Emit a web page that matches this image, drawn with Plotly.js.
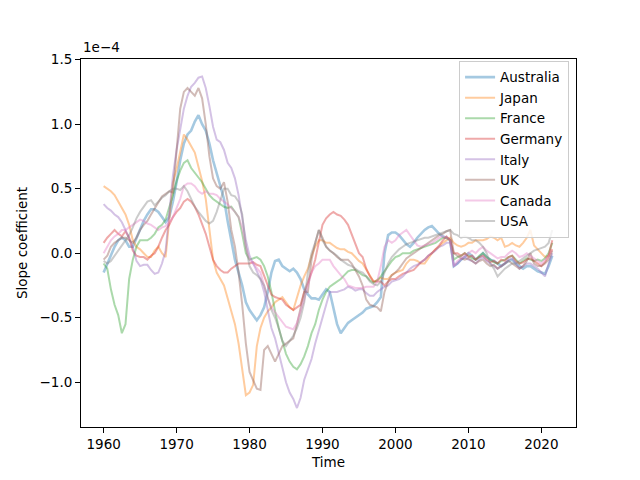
<!DOCTYPE html>
<html>
<head>
<meta charset="utf-8">
<script src="https://cdn.plot.ly/plotly-3.0.1.min.js"></script>
<style>
  html, body { margin: 0; padding: 0; background: #fff; }
  #chart { width: 640px; height: 480px; }
</style>
</head>
<body>
<div id="chart"></div>
<script>
// Half-year time grid, 1960.0 .. 2021.5
const years = [
  1960, 1960.5, 1961, 1961.5, 1962, 1962.5, 1963, 1963.5, 1964, 1964.5,
  1965, 1965.5, 1966, 1966.5, 1967, 1967.5, 1968, 1968.5, 1969, 1969.5,
  1970, 1970.5, 1971, 1971.5, 1972, 1972.5, 1973, 1973.5, 1974, 1974.5,
  1975, 1975.5, 1976, 1976.5, 1977, 1977.5, 1978, 1978.5, 1979, 1979.5,
  1980, 1980.5, 1981, 1981.5, 1982, 1982.5, 1983, 1983.5, 1984, 1984.5,
  1985, 1985.5, 1986, 1986.5, 1987, 1987.5, 1988, 1988.5, 1989, 1989.5,
  1990, 1990.5, 1991, 1991.5, 1992, 1992.5, 1993, 1993.5, 1994, 1994.5,
  1995, 1995.5, 1996, 1996.5, 1997, 1997.5, 1998, 1998.5, 1999, 1999.5,
  2000, 2000.5, 2001, 2001.5, 2002, 2002.5, 2003, 2003.5, 2004, 2004.5,
  2005, 2005.5, 2006, 2006.5, 2007, 2007.5, 2008, 2008.5, 2009, 2009.5,
  2010, 2010.5, 2011, 2011.5, 2012, 2012.5, 2013, 2013.5, 2014, 2014.5,
  2015, 2015.5, 2016, 2016.5, 2017, 2017.5, 2018, 2018.5, 2019, 2019.5,
  2020, 2020.5, 2021, 2021.5
];

// Slope coefficients, in units of 1e-4
const australia = [
  -0.15, -0.08, -0.02, 0.05, 0.10, 0.12, 0.10, 0.05, 0.05, 0.12,
  0.18, 0.25, 0.30, 0.34, 0.34, 0.32, 0.28, 0.24, 0.28, 0.40,
  0.55, 0.72, 0.85, 0.92, 0.95, 1.02, 1.07, 1.00, 0.95, 0.85,
  0.72, 0.62, 0.52, 0.42, 0.25, 0.10, -0.05, -0.15, -0.25, -0.38,
  -0.44, -0.48, -0.52, -0.48, -0.42, -0.30, -0.15, -0.06, -0.05, -0.10,
  -0.12, -0.14, -0.12, -0.15, -0.20, -0.28, -0.32, -0.35, -0.35, -0.36,
  -0.32, -0.28, -0.30, -0.42, -0.55, -0.62, -0.58, -0.54, -0.52, -0.50,
  -0.48, -0.46, -0.43, -0.42, -0.41, -0.38, -0.34, 0.00, 0.14, 0.16,
  0.16, 0.14, 0.10, 0.07, 0.05, 0.08, 0.12, 0.15, 0.18, 0.20,
  0.21, 0.18, 0.15, 0.13, 0.12, 0.10, -0.10, -0.08, -0.05, -0.03,
  0.00, -0.02, -0.05, -0.03, 0.00, -0.03, -0.05, -0.06, -0.08, -0.10,
  -0.08, -0.06, -0.05, -0.08, -0.10, -0.12, -0.10, -0.10, -0.12, -0.14,
  -0.15, -0.16, -0.10, -0.02
];
const japan = [
  0.52, 0.50, 0.48, 0.45, 0.40, 0.36, 0.30, 0.22, 0.10, 0.05,
  0.03, 0.00, -0.03, -0.03, 0.02, 0.05, 0.00, -0.03, 0.25, 0.55,
  0.65, 0.80, 0.92, 0.88, 0.83, 0.78, 0.67, 0.56, 0.42, 0.20,
  -0.05, -0.15, -0.20, -0.25, -0.35, -0.45, -0.55, -0.70, -0.90, -1.10,
  -1.08, -1.02, -0.72, -0.58, -0.50, -0.45, -0.42, -0.38, -0.36, -0.34,
  -0.38, -0.42, -0.44, -0.35, -0.25, -0.18, -0.12, -0.02, 0.05, 0.10,
  0.10, 0.08, 0.08, 0.06, 0.04, 0.03, 0.03, 0.01, 0.00, -0.03,
  -0.06, -0.08, -0.13, -0.18, -0.22, -0.21, -0.19, -0.20, -0.20, -0.17,
  -0.15, -0.14, -0.13, -0.08, -0.05, -0.05, -0.06, -0.08, -0.08, -0.04,
  0.00, 0.03, 0.05, 0.08, 0.10, 0.12, 0.08, 0.06, 0.05, 0.06,
  0.08, 0.08, 0.10, 0.10, 0.10, 0.11, 0.13, 0.12, 0.10, 0.12,
  0.05, 0.06, 0.08, 0.06, 0.05, 0.08, 0.12, 0.18, 0.06, 0.03,
  0.00, -0.03, -0.02, 0.03
];
const france = [
  -0.08, -0.12, -0.28, -0.40, -0.48, -0.62, -0.55, -0.20, -0.05, 0.05,
  0.10, 0.10, 0.10, 0.12, 0.15, 0.20, 0.22, 0.26, 0.35, 0.45,
  0.56, 0.64, 0.70, 0.72, 0.66, 0.62, 0.58, 0.55, 0.50, 0.45,
  0.42, 0.40, 0.38, 0.36, 0.35, 0.36, 0.32, 0.28, 0.15, 0.00,
  -0.05, -0.04, -0.03, -0.05, -0.10, -0.18, -0.30, -0.45, -0.58, -0.68,
  -0.78, -0.84, -0.88, -0.90, -0.86, -0.80, -0.72, -0.62, -0.55, -0.44,
  -0.36, -0.30, -0.26, -0.24, -0.22, -0.20, -0.17, -0.14, -0.13, -0.13,
  -0.15, -0.17, -0.18, -0.21, -0.23, -0.21, -0.18, -0.14, -0.10, -0.06,
  -0.03, -0.02, 0.00, 0.00, 0.00, 0.02, 0.03, 0.04, 0.05, 0.06,
  0.07, 0.08, 0.10, 0.12, 0.12, 0.10, -0.05, -0.03, -0.02, 0.00,
  -0.02, -0.04, -0.05, -0.02, 0.00, -0.03, -0.05, -0.07, -0.08, -0.06,
  -0.05, -0.03, -0.02, -0.05, -0.08, -0.06, -0.04, -0.05, -0.06, -0.05,
  -0.06, -0.04, 0.00, 0.08
];
const germany = [
  0.08, 0.12, 0.15, 0.18, 0.15, 0.13, 0.17, 0.12, 0.02, -0.02,
  -0.03, -0.03, -0.05, -0.02, 0.00, 0.05, 0.12, 0.18, 0.22, 0.28,
  0.32, 0.35, 0.40, 0.42, 0.40, 0.36, 0.30, 0.22, 0.15, 0.05,
  -0.05, -0.10, -0.13, -0.15, -0.15, -0.12, -0.10, -0.08, -0.08, -0.08,
  -0.08, -0.07, -0.09, -0.10, -0.18, -0.25, -0.32, -0.34, -0.35, -0.36,
  -0.40, -0.42, -0.44, -0.42, -0.40, -0.30, -0.22, -0.15, -0.05, 0.10,
  0.22, 0.27, 0.30, 0.32, 0.30, 0.29, 0.26, 0.22, 0.15, 0.08,
  0.00, -0.03, -0.12, -0.18, -0.22, -0.22, -0.22, -0.25, -0.22, -0.20,
  -0.20, -0.18, -0.16, -0.15, -0.14, -0.13, -0.10, -0.07, -0.05, -0.02,
  0.00, 0.03, 0.06, 0.10, 0.13, 0.10, 0.00, 0.00, -0.02, 0.00,
  -0.03, -0.02, -0.05, -0.03, -0.02, -0.05, -0.07, -0.06, -0.08, -0.05,
  -0.06, -0.03, -0.02, -0.06, -0.08, -0.07, -0.05, -0.04, -0.06, -0.08,
  -0.10, -0.07, -0.02, 0.10
];
const italy = [
  0.38, 0.35, 0.33, 0.30, 0.28, 0.24, 0.18, 0.12, 0.05, -0.06,
  -0.10, -0.09, -0.09, -0.13, -0.16, -0.15, -0.08, 0.02, 0.30, 0.60,
  0.80, 0.95, 1.12, 1.22, 1.29, 1.32, 1.36, 1.37, 1.28, 1.14,
  0.98, 0.88, 0.86, 0.80, 0.70, 0.66, 0.58, 0.45, 0.28, 0.10,
  -0.02, -0.08, -0.14, -0.20, -0.30, -0.45, -0.58, -0.66, -0.78, -0.90,
  -1.00, -1.08, -1.13, -1.20, -1.12, -0.98, -0.90, -0.82, -0.70, -0.60,
  -0.50, -0.38, -0.30, -0.30, -0.30, -0.29, -0.28, -0.26, -0.27, -0.29,
  -0.28, -0.28, -0.31, -0.33, -0.33, -0.30, -0.28, -0.26, -0.25, -0.22,
  -0.21, -0.20, -0.18, -0.15, -0.12, -0.10, -0.09, -0.07, -0.05, -0.02,
  0.00, 0.02, 0.05, 0.06, 0.08, 0.08, -0.10, -0.08, -0.05, -0.03,
  -0.05, -0.06, -0.08, -0.05, -0.03, -0.06, -0.08, -0.10, -0.12, -0.10,
  -0.08, -0.05, -0.04, -0.08, -0.12, -0.10, -0.08, -0.08, -0.10, -0.12,
  -0.15, -0.18, -0.08, 0.00
];
const uk = [
  -0.05, -0.02, 0.05, 0.08, 0.10, 0.12, 0.12, 0.10, 0.08, 0.12,
  0.18, 0.22, 0.25, 0.30, 0.35, 0.40, 0.44, 0.46, 0.48, 0.47,
  0.80, 1.12, 1.25, 1.28, 1.25, 1.22, 1.28, 1.20, 1.00, 0.75,
  0.58, 0.52, 0.50, 0.55, 0.40, 0.18, 0.05, -0.15, -0.40, -0.70,
  -0.92, -0.98, -1.05, -1.06, -0.75, -0.72, -0.78, -0.84, -0.78, -0.72,
  -0.70, -0.68, -0.66, -0.55, -0.42, -0.30, -0.30, -0.05, 0.08, 0.18,
  0.12, 0.05, 0.02, 0.00, -0.03, -0.05, -0.05, -0.05, -0.08, -0.13,
  -0.18, -0.25, -0.36, -0.40, -0.41, -0.42, -0.45, -0.30, -0.22, -0.17,
  -0.15, -0.12, -0.08, -0.04, -0.02, 0.00, 0.02, 0.04, 0.06, 0.08,
  0.10, 0.12, 0.14, 0.15, 0.17, 0.18, 0.00, -0.02, -0.04, -0.05,
  -0.04, -0.06, -0.08, -0.06, -0.05, -0.08, -0.10, -0.09, -0.12, -0.10,
  -0.08, -0.06, -0.08, -0.10, -0.12, -0.10, -0.06, 0.00, -0.08, -0.10,
  -0.10, -0.08, -0.05, 0.02
];
const canada = [
  0.00, 0.05, 0.10, 0.13, 0.15, 0.18, 0.18, 0.20, 0.22, 0.24,
  0.26, 0.25, 0.23, 0.22, 0.20, 0.18, 0.20, 0.21, 0.24, 0.28,
  0.35, 0.42, 0.52, 0.54, 0.54, 0.52, 0.48, 0.46, 0.48, 0.46,
  0.46, 0.45, 0.42, 0.40, 0.38, 0.35, 0.32, 0.28, 0.20, 0.05,
  -0.05, -0.08, -0.12, -0.15, -0.25, -0.35, -0.42, -0.46, -0.50, -0.54,
  -0.57, -0.58, -0.59, -0.54, -0.45, -0.36, -0.25, -0.15, -0.10, -0.08,
  -0.05, -0.05, -0.05, -0.10, -0.14, -0.17, -0.20, -0.25, -0.26, -0.27,
  -0.27, -0.27, -0.26, -0.26, -0.26, -0.22, -0.10, 0.05, 0.10, 0.08,
  0.10, 0.14, 0.16, 0.18, 0.14, 0.10, 0.06, 0.05, 0.06, 0.07,
  0.08, 0.10, 0.12, 0.13, 0.12, 0.10, -0.10, -0.06, -0.04, -0.02,
  0.00, 0.02, 0.00, 0.03, 0.05, 0.02, 0.00, -0.02, -0.04, -0.03,
  -0.03, 0.00, 0.02, 0.00, -0.03, -0.02, 0.00, -0.02, -0.04, -0.06,
  -0.08, -0.05, -0.02, 0.03
];
const usa = [
  -0.06, -0.08, -0.06, -0.02, 0.02, 0.05, 0.10, 0.14, 0.20, 0.27,
  0.32, 0.36, 0.40, 0.41, 0.37, 0.40, 0.43, 0.45, 0.48, 0.50,
  0.50, 0.49, 0.52, 0.48, 0.42, 0.36, 0.32, 0.28, 0.25, 0.23,
  0.25, 0.32, 0.42, 0.50, 0.50, 0.45, 0.44, 0.40, 0.30, 0.05,
  -0.10, -0.15, -0.17, -0.20, -0.25, -0.35, -0.44, -0.50, -0.58, -0.68,
  -0.72, -0.68, -0.64, -0.58, -0.50, -0.38, -0.15, 0.00, 0.08, 0.18,
  0.10, 0.05, 0.02, 0.00, -0.02, -0.05, -0.07, -0.09, -0.10, -0.12,
  -0.14, -0.15, -0.18, -0.22, -0.24, -0.25, -0.22, -0.15, -0.08, -0.03,
  0.00, 0.03, 0.05, 0.07, 0.08, 0.09, 0.10, 0.11, 0.12, 0.12,
  0.13, 0.14, 0.15, 0.16, 0.17, 0.18, 0.15, 0.14, 0.12, 0.13,
  0.12, 0.10, 0.10, 0.08, 0.05, 0.00, -0.08, -0.12, -0.18, -0.15,
  -0.12, -0.10, -0.08, -0.08, -0.06, -0.04, -0.02, 0.00, 0.02, 0.03,
  0.04, 0.05, 0.08, 0.18
];

const countries = ['Australia', 'Japan', 'France', 'Germany', 'Italy', 'UK', 'Canada', 'USA'];
const seriesValues = [australia, japan, france, germany, italy, uk, canada, usa];
// matplotlib tab10, drawn at alpha 0.4
const colors = [
  'rgba(31,119,180,0.4)', 'rgba(255,127,14,0.4)', 'rgba(44,160,44,0.4)', 'rgba(214,39,40,0.4)',
  'rgba(148,103,189,0.4)', 'rgba(140,86,75,0.4)', 'rgba(227,119,194,0.4)', 'rgba(127,127,127,0.4)'
];

const yTicks = [-1.0, -0.5, 0.0, 0.5, 1.0, 1.5];
const yTickText = ['\u22121.0', '\u22120.5', '0.0', '0.5', '1.0', '1.5'];
const xTicks = [1960, 1970, 1980, 1990, 2000, 2010, 2020];

const traces = countries.map((name, i) => ({
    x: years,
    y: seriesValues[i],
    type: 'scatter',
    mode: 'lines',
    name: name,
    // Australia's monthly series is much noisier, so its line reads as a wider band
    line: { color: colors[i], width: i === 0 ? 2.6 : 2 }
}));

const font = { family: 'DejaVu Sans, sans-serif', size: 13.5, color: '#000' };

const axisStyle = {
    showline: true,
    linecolor: '#000',
    linewidth: 1,
    mirror: true,
    showgrid: false,
    zeroline: false,
    ticks: 'outside',
    ticklen: 5,
    tickwidth: 1,
    tickcolor: '#000',
    tickfont: font
};

const layout = {
    width: 640,
    height: 480,
    paper_bgcolor: '#fff',
    plot_bgcolor: '#fff',
    font: font,
    margin: { l: 81, r: 64, t: 59, b: 53 },
    showlegend: true,
    legend: {
        x: 0.986, xanchor: 'right',
        y: 0.995, yanchor: 'top',
        bgcolor: 'rgba(255,255,255,0.8)',
        bordercolor: '#cccccc',
        borderwidth: 1,
        font: font,
        tracegroupgap: 0
    },
    xaxis: {
        ...axisStyle,
        range: [1956.9, 2024.75],
        tickvals: xTicks,
        title: { text: 'Time', font: font, standoff: 6 }
    },
    yaxis: {
        ...axisStyle,
        range: [-1.347, 1.505],
        tickvals: yTicks,
        ticktext: yTickText,
        title: { text: 'Slope coefficient', font: font, standoff: 8 }
    },
    annotations: [{
        text: '1e\u22124',
        xref: 'paper', yref: 'paper',
        x: 0, y: 1,
        xanchor: 'left', yanchor: 'bottom',
        yshift: 2,
        showarrow: false,
        font: font
    }]
};

Plotly.newPlot('chart', traces, layout, { displayModeBar: false, staticPlot: true });
</script>
</body>
</html>
